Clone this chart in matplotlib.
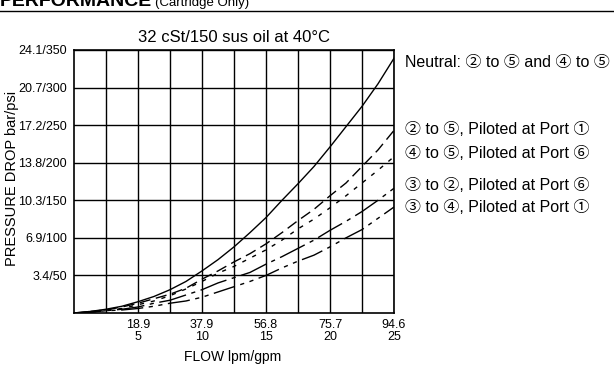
import matplotlib
matplotlib.use('Agg')
import matplotlib.pyplot as plt

plt.rcParams['font.family'] = ['Liberation Sans', 'DejaVu Sans']

# flow in gpm, pressure drop in psi
flow = [0, 1.25, 2.5, 3.75, 5, 6.25, 7.5, 8.75, 10, 11.25, 12.5,
        13.75, 15, 16.25, 17.5, 18.75, 20, 21.25, 22.5, 23.75, 25]
neutral = [0, 2, 5, 9, 15, 22, 31, 42, 56, 71, 88,
           107, 127, 150, 172, 195, 221, 248, 275, 305, 339]
p25_port1 = [0, 2, 4, 8, 13, 19, 25, 33, 45, 56, 68,
             79, 92, 107, 123, 138, 156, 173, 195, 217, 243]
p45_port6 = [0, 2, 4, 6, 11, 16, 23, 32, 42, 53, 62,
             73, 84, 97, 112, 125, 140, 156, 173, 190, 208]
p32_port6 = [0, 1, 3, 5, 8, 13, 17, 24, 31, 40, 47,
             54, 65, 75, 86, 97, 110, 122, 135, 150, 166]
p34_port1 = [0, 1, 3, 4, 6, 9, 13, 16, 21, 28, 35,
             42, 50, 60, 69, 77, 88, 100, 111, 126, 141]

x_ticks = [5, 10, 15, 20, 25]
x_labels = ['18.9\n5', '37.9\n10', '56.8\n15', '75.7\n20', '94.6\n25']
y_ticks = [50, 100, 150, 200, 250, 300, 350]
y_labels = ['3.4/50', '6.9/100', '10.3/150', '13.8/200', '17.2/250', '20.7/300', '24.1/350']

labels = ['Neutral: \u2461 to \u2464 and \u2463 to \u2464',
          '\u2461 to \u2464, Piloted at Port \u2460',
          '\u2463 to \u2464, Piloted at Port \u2465',
          '\u2462 to \u2461, Piloted at Port \u2465',
          '\u2462 to \u2463, Piloted at Port \u2460']
label_y = [62, 130, 153, 185, 207]

fig = plt.figure(figsize=(6.14, 3.67), dpi=100)
ax = fig.add_axes([74/614, 54/367, 320/614, 263/367])

ax.plot(flow, neutral, color='black', lw=1.0, ls='-')
ax.plot(flow, p25_port1, color='black', lw=1.0, ls=(0, (8, 4)))
ax.plot(flow, p45_port6, color='black', lw=1.0, ls=(0, (3, 5)))
ax.plot(flow, p32_port6, color='black', lw=1.0, ls=(0, (20, 4, 3, 4)))
ax.plot(flow, p34_port1, color='black', lw=1.0, ls=(0, (16, 4, 3, 4, 3, 4)))

ax.set_xlim(0, 25)
ax.set_ylim(0, 350)
ax.set_xticks(x_ticks)
ax.set_xticklabels(x_labels, fontsize=9, linespacing=1.05)
ax.set_yticks(y_ticks)
ax.set_yticklabels(y_labels, fontsize=9)
ax.set_xticks([i * 2.5 for i in range(1, 10)], minor=True)
ax.tick_params(which='both', length=0)
ax.tick_params(axis='x', pad=4)
ax.tick_params(axis='y', pad=5)
ax.grid(which='both', axis='x', color='black', lw=1)
ax.grid(which='major', axis='y', color='black', lw=1)
for s in ax.spines.values():
    s.set_linewidth(1.2)

fig.text(233/614, 1 - 357/367, 'FLOW lpm/gpm', fontsize=10, ha='center', va='center')
fig.text(12/614, 1 - 178/367, 'PRESSURE DROP bar/psi', fontsize=10.5,
         rotation=90, ha='center', va='center')
ax.set_title('32 cSt/150 sus oil at 40\u00b0C', fontsize=12, pad=6)

for t, y in zip(labels, label_y):
    fig.text(405/614, 1 - y/367, t, fontsize=11.5, va='center', ha='left',
             family=['Liberation Sans', 'Noto Sans CJK JP'])

# clipped header from the page above
fig.text(0.0, 1 - 6/367, 'PERFORMANCE', fontsize=14, fontweight='bold', va='baseline')
fig.text(155/614, 1 - 6/367, '(Cartridge Only)', fontsize=9.5, va='baseline')
fig.add_artist(plt.Line2D([0, 1], [1 - 11/367, 1 - 11/367], color='black', lw=1))

fig.savefig('out.png', dpi=100)
